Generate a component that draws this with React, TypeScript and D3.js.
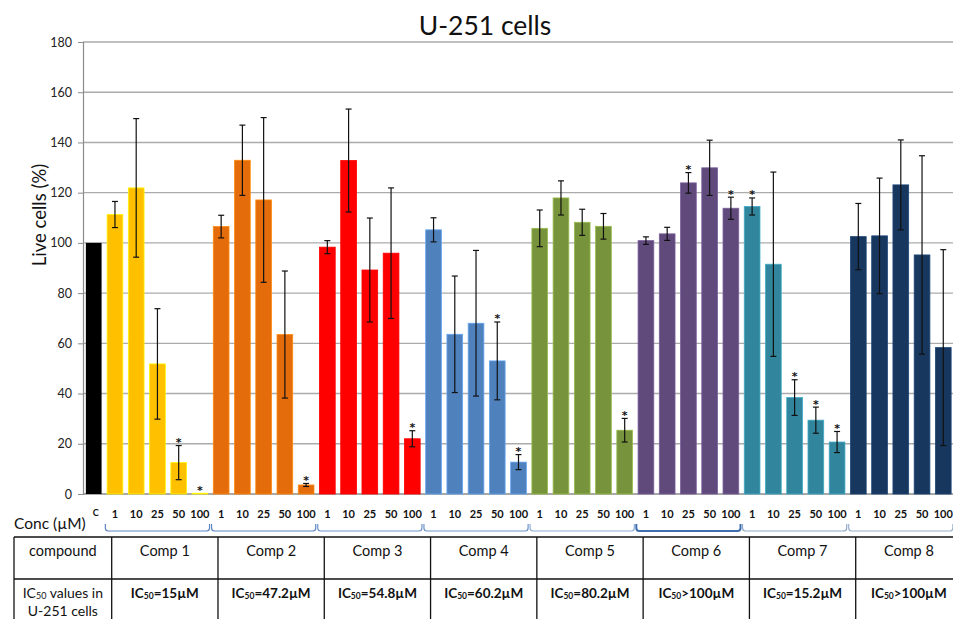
import React, { useRef, useEffect } from 'react';
import * as d3 from 'd3';

// 数据：U-251 细胞存活率（%），对照 + 8 个化合物 × 5 个浓度
const compounds = ['Comp 1', 'Comp 2', 'Comp 3', 'Comp 4', 'Comp 5', 'Comp 6', 'Comp 7', 'Comp 8'];
const concLabels = ['1', '10', '25', '50', '100'];
const controlValue = 100;

const means = [
  [111.3, 121.9, 51.8, 12.5, 0.3],
  [106.5, 132.9, 117.1, 63.5, 3.6],
  [98.3, 132.8, 89.2, 95.9, 22.0],
  [105.2, 63.6, 68.0, 53.0, 12.7],
  [105.8, 117.9, 108.2, 106.6, 25.4],
  [100.9, 103.6, 123.9, 129.9, 113.8],
  [114.5, 91.5, 38.4, 29.4, 20.7],
  [102.5, 102.8, 123.1, 95.2, 58.3]
];

const errors = [
  [5.2, 27.6, 22.0, 6.8, 0],
  [4.5, 14.0, 32.8, 25.3, 0.6],
  [2.6, 20.5, 20.7, 26.0, 3.2],
  [4.8, 23.2, 29.0, 15.5, 3.0],
  [7.3, 6.8, 5.2, 5.1, 4.7],
  [1.5, 2.6, 4.1, 11.0, 4.4],
  [3.4, 36.7, 7.1, 5.2, 4.2],
  [13.2, 23.0, 17.9, 39.5, 39.0]
];

// 显著性标记 *
const stars = [
  [0, 0, 0, 1, 1],
  [0, 0, 0, 0, 1],
  [0, 0, 0, 0, 1],
  [0, 0, 0, 1, 1],
  [0, 0, 0, 0, 1],
  [0, 0, 1, 0, 1],
  [1, 0, 1, 1, 1],
  [0, 0, 0, 0, 0]
];

const barColors = ['#FFC000', '#E46C0A', '#FF0000', '#4F81BD', '#77933C', '#604A7B', '#31859C', '#17375E'];
const bracketColors = ['#5b87c5', '#5b87c5', '#6f95cc', '#6f95cc', '#8fb0d8', '#3f6db0', '#8fa9cc', '#9ab0cc'];
const ic50Ops = ['=15µM', '=47.2µM', '=54.8µM', '=60.2µM', '=80.2µM', '>100µM', '=15.2µM', '>100µM'];
const yTicks = [0, 20, 40, 60, 80, 100, 120, 140, 160, 180];

interface Bar {
  key: string;
  label: string;
  value: number;
  err: number;
  star: boolean;
  color: string;
  group: number;
}

const bars: Bar[] = [{ key: 'C', label: 'C', value: controlValue, err: 0, star: false, color: '#000000', group: -1 }];
compounds.forEach((c, gi) => {
  concLabels.forEach((conc, ci) => {
    bars.push({
      key: `${gi}-${conc}`,
      label: conc,
      value: means[gi][ci],
      err: errors[gi][ci],
      star: stars[gi][ci] === 1,
      color: barColors[gi],
      group: gi
    });
  });
});

const FONT = 'Lato, "Open Sans", sans-serif';

export default function App() {
  const svgRef = useRef<SVGSVGElement>(null);

  useEffect(() => {
    if (!svgRef.current) return;
    const svg = d3.select(svgRef.current);
    svg.selectAll('*').remove();

    const W = 953, H = 619;
    const plot = { left: 83, right: 954, top: 42, bottom: 494 };

    svg.append('rect').attr('width', W).attr('height', H).attr('fill', '#fff');

    const x = d3.scaleBand<string>()
      .domain(bars.map(d => d.key))
      .range([plot.left, plot.right])
      .paddingInner(0.26)
      .paddingOuter(0.135);

    const y = d3.scaleLinear().domain([0, 180]).range([plot.bottom, plot.top]);

    // 网格线
    svg.append('g')
      .selectAll('line')
      .data(yTicks.filter(t => t > 0))
      .join('line')
      .attr('x1', plot.left).attr('x2', W)
      .attr('y1', d => y(d)).attr('y2', d => y(d))
      .attr('stroke', '#ababab').attr('stroke-width', 1.4);

    // y 轴
    const yAxis = svg.append('g')
      .attr('transform', `translate(${plot.left},0)`)
      .call(d3.axisLeft(y).tickValues(yTicks).tickSize(5).tickPadding(6));
    yAxis.select('.domain').attr('stroke', '#8c8c8c').attr('stroke-width', 1.2);
    yAxis.selectAll('.tick line').attr('stroke', '#8c8c8c');
    yAxis.selectAll('.tick text')
      .attr('fill', '#222')
      .style('font-family', FONT)
      .style('font-size', '12.5px');

    // x 轴基线
    svg.append('line')
      .attr('x1', plot.left).attr('x2', W)
      .attr('y1', y(0)).attr('y2', y(0))
      .attr('stroke', '#8c8c8c').attr('stroke-width', 1.4);

    // 柱子
    svg.append('g')
      .selectAll('rect')
      .data(bars)
      .join('rect')
      .attr('x', d => x(d.key)!)
      .attr('width', x.bandwidth())
      .attr('y', d => y(d.value))
      .attr('height', d => y(0) - y(d.value))
      .attr('fill', d => d.color)
      .attr('stroke', d => d.group < 0 ? 'none' : d3.color(d.color)!.brighter(0.7).formatHex())
      .attr('stroke-width', 0.8);

    // 误差线
    const cap = 3;
    const eb = svg.append('g').attr('stroke', '#111').attr('stroke-width', 1.2);
    bars.filter(d => d.err > 0).forEach(d => {
      const cx = x(d.key)! + x.bandwidth() / 2;
      const y1 = y(d.value + d.err), y2 = y(d.value - d.err);
      eb.append('line').attr('x1', cx).attr('x2', cx).attr('y1', y1).attr('y2', y2);
      eb.append('line').attr('x1', cx - cap).attr('x2', cx + cap).attr('y1', y1).attr('y2', y1);
      eb.append('line').attr('x1', cx - cap).attr('x2', cx + cap).attr('y1', y2).attr('y2', y2);
    });

    // 显著性星号
    svg.append('g')
      .selectAll('text')
      .data(bars.filter(d => d.star))
      .join('text')
      .attr('x', d => x(d.key)! + x.bandwidth() / 2)
      .attr('y', d => y(d.value + d.err) + 0.5)
      .attr('text-anchor', 'middle')
      .style('font-family', '"DejaVu Sans", sans-serif')
      .style('font-size', '11px')
      .style('font-weight', 'bold')
      .attr('fill', '#111')
      .text('*');

    // 浓度标签
    svg.append('g')
      .selectAll('text')
      .data(bars)
      .join('text')
      .attr('x', d => x(d.key)! + x.bandwidth() / 2 + (d.group < 0 ? 2 : 0))
      .attr('y', d => d.group < 0 ? 515.5 : 517.5)
      .attr('text-anchor', 'middle')
      .style('font-family', FONT)
      .style('font-size', d => d.group < 0 ? '9px' : '11px')
      .style('font-weight', 'bold')
      .attr('fill', '#111')
      .text(d => d.label);

    // 分组括号
    const groupExtent = (gi: number) => {
      const first = bars.find(b => b.group === gi)!;
      const last = bars.filter(b => b.group === gi).slice(-1)[0];
      const pad = (x.step() - x.bandwidth()) / 2;
      return [x(first.key)! - pad + 1, x(last.key)! + x.bandwidth() + pad - 1];
    };
    compounds.forEach((c, gi) => {
      const [x0, x1] = groupExtent(gi);
      const top = 524, bot = 531;
      svg.append('path')
        .attr('d', `M${x0},${top} L${x0},${bot - 3} Q${x0},${bot} ${x0 + 3},${bot} L${x1 - 3},${bot} Q${x1},${bot} ${x1},${bot - 3} L${x1},${top}`)
        .attr('fill', 'none')
        .attr('stroke', bracketColors[gi])
        .attr('stroke-width', gi === 5 ? 2 : 1.2);
    });

    // 标题与轴标题
    svg.append('text')
      .attr('x', 485).attr('y', 35)
      .attr('text-anchor', 'middle')
      .style('font-family', FONT)
      .style('font-size', '26.5px')
      .attr('fill', '#111')
      .text('U-251 cells');

    svg.append('text')
      .attr('transform', 'translate(46,215) rotate(-90)')
      .attr('text-anchor', 'middle')
      .style('font-family', FONT)
      .style('font-size', '18.5px')
      .attr('fill', '#111')
      .text('Live cells (%)');

    svg.append('text')
      .attr('x', 14).attr('y', 529)
      .style('font-family', FONT)
      .style('font-size', '15.5px')
      .attr('fill', '#111')
      .text('Conc (µM)');

    // 下方表格
    const tbl = { left: 14, firstCol: 111.7, right: 962, top: 537, mid: 579, bottom: 640 };
    const col = d3.scaleBand<string>().domain(compounds).range([tbl.firstCol, tbl.right]);
    const tg = svg.append('g');
    [tbl.top, tbl.mid].forEach(yy => {
      tg.append('line').attr('x1', tbl.left).attr('x2', W).attr('y1', yy).attr('y2', yy)
        .attr('stroke', '#111').attr('stroke-width', 1.3);
    });
    [tbl.left, ...compounds.map(c => col(c)!)].forEach(xx => {
      tg.append('line').attr('x1', xx).attr('x2', xx).attr('y1', tbl.top).attr('y2', tbl.bottom)
        .attr('stroke', '#111').attr('stroke-width', 1.3);
    });

    const firstCx = (tbl.left + tbl.firstCol) / 2;
    tg.append('text')
      .attr('x', firstCx).attr('y', 556)
      .attr('text-anchor', 'middle')
      .style('font-family', FONT).style('font-size', '14.5px').attr('fill', '#111')
      .text('compound');

    const icLabel = tg.append('text')
      .attr('x', firstCx).attr('y', 598)
      .attr('text-anchor', 'middle')
      .style('font-family', FONT).style('font-size', '14px').attr('fill', '#111');
    icLabel.append('tspan').text('IC');
    icLabel.append('tspan').attr('font-size', '9px').attr('dy', 1).text('50');
    icLabel.append('tspan').attr('dy', -1).text(' values in');
    tg.append('text')
      .attr('x', firstCx).attr('y', 616)
      .attr('text-anchor', 'middle')
      .style('font-family', FONT).style('font-size', '14px').attr('fill', '#111')
      .text('U-251 cells');

    compounds.forEach((c, gi) => {
      const cx = col(c)! + col.bandwidth() / 2;
      tg.append('text')
        .attr('x', cx).attr('y', 556)
        .attr('text-anchor', 'middle')
        .style('font-family', FONT).style('font-size', '14.5px').attr('fill', '#111')
        .text(c);
      const t = tg.append('text')
        .attr('x', cx).attr('y', 598)
        .attr('text-anchor', 'middle')
        .style('font-family', FONT).style('font-size', '13.5px').style('font-weight', 'bold').attr('fill', '#111');
      t.append('tspan').text('IC');
      t.append('tspan').attr('font-size', '8.5px').attr('dy', 1).text('50');
      t.append('tspan').attr('dy', -1).text(ic50Ops[gi]);
    });
  }, []);

  return (
    <svg
      ref={svgRef}
      width={953}
      height={619}
      style={{ position: 'absolute', left: 0, top: 0, display: 'block' }}
    />
  );
}
